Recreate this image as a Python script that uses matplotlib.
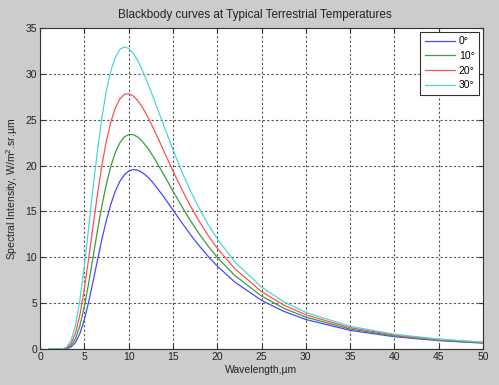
import matplotlib
matplotlib.use("Agg")
import matplotlib.pyplot as plt

wavelength = [1, 2, 2.5, 3, 3.5, 4, 4.5, 5, 5.5, 6, 6.5, 7, 7.5, 8, 8.5, 9, 9.5, 10, 10.5,
              11, 11.5, 12, 12.5, 13, 14, 15, 16, 17, 18, 19, 20, 22, 25, 27.5, 30, 35, 40, 45, 50]
t0 = [0, 0, 0.003, 0.037, 0.207, 0.698, 1.674, 3.184, 5.153, 7.409, 9.755, 12.02, 14.06, 15.80,
      17.20, 18.26, 18.97, 19.40, 19.56, 19.50, 19.27, 18.89, 18.40, 17.84, 16.55, 15.16, 13.78,
      12.45, 11.21, 10.08, 9.047, 7.29, 5.305, 4.109, 3.216, 2.033, 1.338, 0.912, 0.641]
t10 = [0, 0, 0.006, 0.068, 0.353, 1.111, 2.529, 4.619, 7.225, 10.10, 12.99, 15.68, 18.02, 19.94,
       21.42, 22.46, 23.10, 23.39, 23.38, 23.13, 22.69, 22.10, 21.41, 20.63, 18.96, 17.23, 15.55,
       13.97, 12.51, 11.19, 10.00, 8.00, 5.776, 4.450, 3.468, 2.178, 1.426, 0.969, 0.679]
t20 = [0, 0, 0.011, 0.121, 0.579, 1.714, 3.717, 6.535, 9.901, 13.49, 16.96, 20.09, 22.71, 24.78,
       26.28, 27.25, 27.75, 27.84, 27.61, 27.13, 26.44, 25.60, 24.65, 23.65, 21.53, 19.42, 17.42,
       15.56, 13.87, 12.35, 10.99, 8.74, 6.259, 4.798, 3.724, 2.324, 1.516, 1.026, 0.718]
t30 = [0, 0, 0.022, 0.207, 0.919, 2.568, 5.327, 9.032, 13.29, 17.67, 21.76, 25.32, 28.20, 30.35,
       31.81, 32.65, 32.94, 32.78, 32.27, 31.49, 30.50, 29.37, 28.14, 26.87, 24.27, 21.74, 19.37,
       17.21, 15.27, 13.54, 12.02, 9.49, 6.750, 5.152, 3.984, 2.473, 1.606, 1.084, 0.756]
series = [("0°", t0, "#4848ff"), ("10°", t10, "#3a9e3a"), ("20°", t20, "#ff5050"), ("30°", t30, "#4cd6d6")]

plt.rcParams['font.family'] = ['Liberation Sans', 'DejaVu Sans']

fig = plt.figure(figsize=(4.99, 3.85), dpi=100, facecolor="#cccccc")
ax = fig.add_axes([40/499, 1-349/385, 443/499, 321/385])
ax.set_facecolor("white")

for label, vals, col in series:
    ax.plot(wavelength, vals, color=col, lw=0.9, label=label)

ax.set_xlim(0, 50)
ax.set_ylim(0, 35)
ax.set_xticks(range(0, 51, 5))
ax.set_yticks(range(0, 36, 5))
ax.grid(True, linestyle=(0, (2, 2)), color="#555555", lw=0.8)
ax.tick_params(direction="in", top=True, right=True, labelsize=7.5, length=3.5, pad=2,
               colors="#333333", labelcolor="#222222")
for s in ax.spines.values():
    s.set_color("#333333")
    s.set_linewidth(0.8)

ax.set_title("Blackbody curves at Typical Terrestrial Temperatures", fontsize=8.5, pad=7,
             color="#222222", x=0.484)
ax.set_xlabel("Wavelength,µm", fontsize=7.5, labelpad=2, color="#222222")
ax.set_ylabel("Spectral Intensity, W/m$^2$.sr.µm", fontsize=7.5, labelpad=4, color="#222222")

leg = ax.legend(loc="upper right", fontsize=7.5, fancybox=False, framealpha=1,
                edgecolor="#333333", handlelength=2.9, borderaxespad=0.35,
                labelspacing=0.45, handletextpad=0.4, borderpad=0.45)
leg.get_frame().set_linewidth(0.8)

fig.savefig("out.png", dpi=100, facecolor=fig.get_facecolor())
